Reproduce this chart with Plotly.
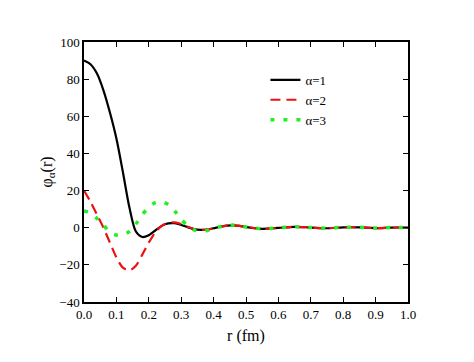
import plotly.graph_objects as go

r = [0.00, 0.02, 0.04, 0.06, 0.08, 0.10, 0.12, 0.14, 0.16, 0.18, 0.20, 0.22, 0.24,
     0.26, 0.28, 0.30, 0.32, 0.34, 0.36, 0.38, 0.40, 0.42, 0.44, 0.46, 0.48, 0.50,
     0.55, 0.60, 0.65, 0.70, 0.75, 0.80, 0.85, 0.90, 0.95, 1.00]

phi1 = [90, 88, 83, 74, 62, 48, 30, 11, -2, -5, -4, -1.5, 1,
        2.3, 2.4, 1.5, 0.3, -0.8, -1.2, -1.0, -0.3, 0.5, 1.1, 1.3, 1.0, 0.4,
        -0.6, -0.1, 0.5, 0.1, -0.3, 0.2, 0.2, -0.2, 0.1, 0.1]

phi2 = [20, 14, 7, 0, -8, -16, -21.5, -23, -20.5, -14.5, -8, -2.5, 1,
        2.6, 2.9, 2.0, 0.5, -0.7, -1.2, -1.0, -0.3, 0.5, 1.1, 1.3, 1.0, 0.4,
        -0.6, -0.1, 0.5, 0.1, -0.3, 0.2, 0.2, -0.2, 0.1, 0.1]

phi3 = [9, 8, 5, 1.5, -2.5, -4, -4, -2, 2, 7, 11, 13.5, 14,
        12.5, 9, 4.5, 1, -1.2, -2, -1.5, -0.5, 0.5, 1.2, 1.4, 1.1, 0.4,
        -0.6, -0.1, 0.5, 0.1, -0.3, 0.2, 0.2, -0.2, 0.1, 0.1]

names = ["α=1", "α=2", "α=3"]

FONT = "Liberation Serif"

fig = go.Figure()
fig.add_trace(go.Scatter(x=r, y=phi1, name=names[0], mode="lines",
                         line=dict(color="black", width=2.2, shape="spline", smoothing=0.8)))
fig.add_trace(go.Scatter(x=r, y=phi2, name=names[1], mode="lines",
                         line=dict(color="#ee1111", width=2.2, dash="10px,6px", shape="spline", smoothing=0.8)))
fig.add_trace(go.Scatter(x=r, y=phi3, name=names[2], mode="lines",
                         line=dict(color="#22ee22", width=3.5, dash="4px,9px", shape="spline", smoothing=0.8)))

axis_common = dict(showline=True, mirror="ticks", linecolor="black", linewidth=1.5,
                   ticks="inside", ticklen=5, tickcolor="black", tickwidth=1.2,
                   showgrid=False, zeroline=False,
                   tickfont=dict(family=FONT, size=13, color="black"))

fig.update_xaxes(range=[0, 1], dtick=0.1, tick0=0, tickformat=".1f",
                 title=dict(text="r (fm)", font=dict(family=FONT, size=16, color="black"), standoff=8),
                 **axis_common)
fig.update_yaxes(range=[-40, 100], dtick=20, tick0=0,
                 title=dict(text="φ<sub>α</sub>(r)", font=dict(family=FONT, size=16, color="black"), standoff=3),
                 **axis_common)

fig.update_layout(
    width=474, height=362,
    margin=dict(l=76, r=74, t=34, b=68),
    plot_bgcolor="white", paper_bgcolor="white",
    font=dict(family=FONT, color="black"),
    legend=dict(x=0.56, y=0.912, xanchor="left", yanchor="top",
                bgcolor="rgba(0,0,0,0)", font=dict(family=FONT, size=13, color="black"),
                itemwidth=30, tracegroupgap=0),
)

fig.write_html("out.html")
